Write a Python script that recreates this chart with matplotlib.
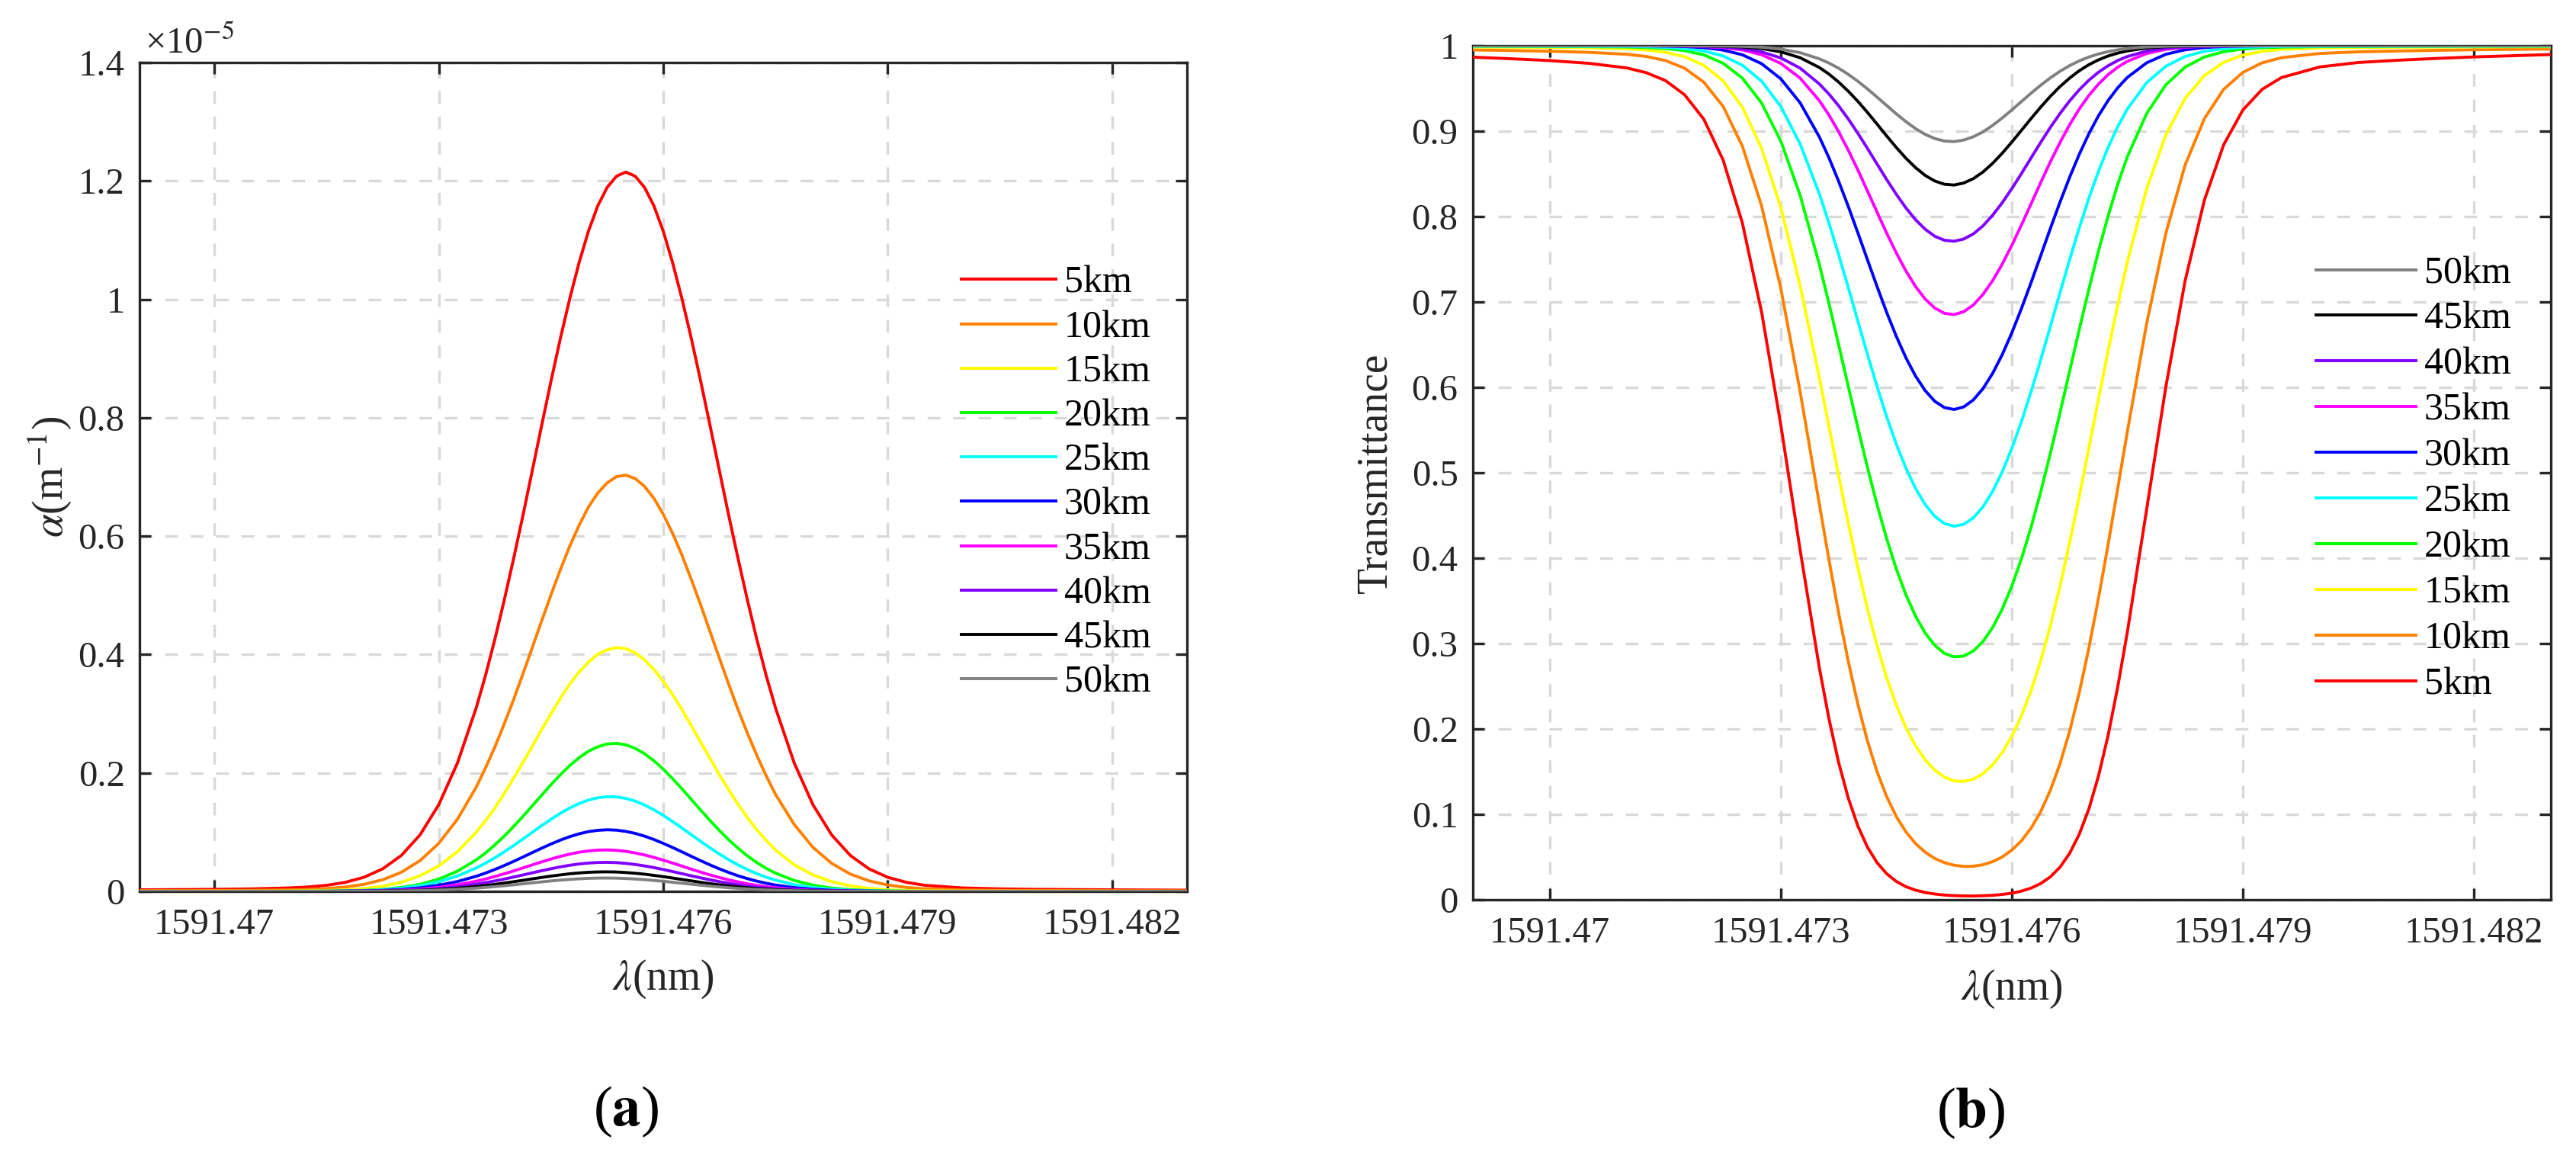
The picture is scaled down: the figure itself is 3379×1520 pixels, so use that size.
import matplotlib
matplotlib.use("Agg")
import matplotlib.pyplot as plt

plt.rcParams["font.family"] = ["Liberation Serif", "DejaVu Serif"]
plt.rcParams["mathtext.fontset"] = "stix"

# wavelength samples (nm), shared by both panels
wavelength = [
    1591.4690, 1591.4695, 1591.4700, 1591.4705,
    1591.4710, 1591.47125, 1591.4715, 1591.47175, 1591.4720, 1591.47225, 1591.4725, 1591.47275,
    1591.4730, 1591.47325, 1591.4735, 1591.473625, 1591.47375, 1591.473875, 1591.4740,
    1591.474125, 1591.47425, 1591.474375, 1591.4745, 1591.474625, 1591.47475, 1591.474875,
    1591.4750, 1591.475125, 1591.47525, 1591.475375, 1591.4755, 1591.475625, 1591.47575,
    1591.475875, 1591.4760, 1591.476125, 1591.47625, 1591.476375, 1591.4765, 1591.476625,
    1591.47675, 1591.476875, 1591.4770, 1591.477125, 1591.47725, 1591.477375,
    1591.4775, 1591.47775, 1591.4780, 1591.47825, 1591.4785, 1591.47875, 1591.4790, 1591.47925, 1591.4795,
    1591.4800, 1591.4805, 1591.4810, 1591.4815, 1591.4820, 1591.4830,
]

altitude_labels = ["5km", "10km", "15km", "20km", "25km", "30km", "35km", "40km", "45km", "50km"]
line_colors = ["#ff0000", "#ff8000", "#ffff00", "#00ff00", "#00ffff",
               "#0000ff", "#ff00ff", "#8000ff", "#000000", "#808080"]

# absorption coefficient, units of 1e-5 m^-1
alpha_5km = [
    0.0026, 0.0030, 0.0034, 0.0042,
    0.0058, 0.0074, 0.0102, 0.0152, 0.0238, 0.0380, 0.0607, 0.0955,
    0.1465, 0.217, 0.310, 0.365, 0.426, 0.492, 0.562, 0.635, 0.711, 0.787, 0.862, 0.934, 1.001, 1.062,
    1.115, 1.158, 1.189, 1.208, 1.215, 1.208, 1.189, 1.158, 1.115, 1.062,
    1.001, 0.934, 0.862, 0.787, 0.711, 0.635, 0.562, 0.492, 0.426, 0.365,
    0.310, 0.217, 0.1465, 0.0955, 0.0607, 0.0380, 0.0238, 0.0152, 0.0102,
    0.0058, 0.0042, 0.0034, 0.0030, 0.0026, 0.0020,
]
alpha_10km = [
    0.0010, 0.0012, 0.0014, 0.0017,
    0.0024, 0.0032, 0.0047, 0.0073, 0.0118, 0.0196, 0.0323, 0.052,
    0.0811, 0.122, 0.176, 0.2086, 0.244, 0.2829, 0.324, 0.3675, 0.412, 0.4568, 0.501, 0.5434, 0.583, 0.6183,
    0.649, 0.6729, 0.690, 0.7005, 0.703, 0.6973, 0.684, 0.6639, 0.637, 0.6046,
    0.568, 0.5267, 0.484, 0.4388, 0.394, 0.3499, 0.307, 0.2671, 0.230, 0.1953,
    0.164, 0.113, 0.0744, 0.0474, 0.0292, 0.0177, 0.0107, 0.0066, 0.0043,
    0.0023, 0.0016, 0.0014, 0.0012, 0.0010, 0.0008,
]
alpha_15km = [
    0.0002, 0.0002, 0.0003, 0.0003,
    0.0005, 0.0008, 0.0014, 0.0025, 0.0047, 0.0086, 0.0153, 0.0263,
    0.043, 0.067, 0.100, 0.1195, 0.141, 0.1654, 0.191, 0.218, 0.245, 0.2734, 0.300, 0.3263, 0.350, 0.3706,
    0.387, 0.4005, 0.408, 0.4118, 0.410, 0.4028, 0.391, 0.375, 0.355, 0.3322,
    0.307, 0.280, 0.252, 0.2246, 0.197, 0.1715, 0.147, 0.1246, 0.104, 0.0863,
    0.070, 0.045, 0.0278, 0.0164, 0.0093, 0.0050, 0.0028, 0.0014, 0.0009,
    0.0005, 0.0004, 0.0003, 0.0003, 0.0002, 0.0002,
]
alpha_20km = [
    0.0001, 0.0001, 0.0001, 0.0002,
    0.0002, 0.0002, 0.0004, 0.0008, 0.0017, 0.0033, 0.0066, 0.0118,
    0.0207, 0.0341, 0.0532, 0.0649, 0.0785, 0.0932, 0.1096, 0.1266, 0.1446, 0.1625, 0.1802, 0.197, 0.2125, 0.2257,
    0.2367, 0.2443, 0.2489, 0.2500, 0.2475, 0.2416, 0.2325, 0.2206, 0.2064, 0.1904,
    0.1732, 0.1553, 0.1373, 0.1196, 0.1028, 0.0871, 0.0728, 0.0599, 0.0487, 0.0389,
    0.0308, 0.0185, 0.0105, 0.0056, 0.0029, 0.0014, 0.0007, 0.0003, 0.0002,
    0.0001, 0.0001, 0.0001, 0.0001, 0.0001, 0.0001,
]
alpha_25km = [
    0.0001, 0.0001, 0.0001, 0.0001,
    0.0001, 0.0002, 0.0003, 0.0007, 0.0014, 0.0028, 0.0053, 0.0096,
    0.0162, 0.0260, 0.0395, 0.0477, 0.0568, 0.0667, 0.0774, 0.0884, 0.0998, 0.1110, 0.1218, 0.1319, 0.1409, 0.1484,
    0.1542, 0.1581, 0.1599, 0.1595, 0.1570, 0.1524, 0.1459, 0.1378, 0.1284, 0.1180,
    0.1070, 0.0957, 0.0844, 0.0735, 0.0631, 0.0534, 0.0446, 0.0368, 0.0299, 0.0240,
    0.0190, 0.0114, 0.0065, 0.0035, 0.0018, 0.0009, 0.0004, 0.0002, 0.0001,
    0.0001, 0.0001, 0.0001, 0.0001, 0.0001, 0.0001,
]
alpha_30km = [
    0.0, 0.0, 0.0, 0.0,
    0.0, 0.0001, 0.0002, 0.0004, 0.0008, 0.0017, 0.0033, 0.0060,
    0.0103, 0.0166, 0.0255, 0.0309, 0.0370, 0.0436, 0.0506, 0.0580, 0.0655, 0.0729, 0.0800, 0.0866, 0.0924, 0.0972,
    0.1009, 0.1031, 0.1040, 0.1034, 0.1013, 0.0979, 0.0933, 0.0876, 0.0811, 0.0741,
    0.0667, 0.0592, 0.0518, 0.0447, 0.0380, 0.0319, 0.0263, 0.0215, 0.0173, 0.0137,
    0.0107, 0.0063, 0.0035, 0.0018, 0.0009, 0.0004, 0.0002, 0.0001, 0.0,
    0.0, 0.0, 0.0, 0.0, 0.0, 0.0,
]
alpha_35km = [
    0.0, 0.0, 0.0, 0.0,
    0.0, 0.0, 0.0001, 0.0002, 0.0005, 0.0011, 0.0021, 0.0039,
    0.0068, 0.0111, 0.0172, 0.0209, 0.0251, 0.0297, 0.0345, 0.0396, 0.0447, 0.0498, 0.0546, 0.0591, 0.0629, 0.0661,
    0.0683, 0.0697, 0.0700, 0.0693, 0.0676, 0.0649, 0.0615, 0.0574, 0.0527, 0.0478,
    0.0427, 0.0375, 0.0325, 0.0278, 0.0234, 0.0194, 0.0159, 0.0128, 0.0101, 0.0079,
    0.0061, 0.0035, 0.0019, 0.0009, 0.0004, 0.0002, 0.0001, 0.0, 0.0,
    0.0, 0.0, 0.0, 0.0, 0.0, 0.0,
]
alpha_40km = [
    0.0, 0.0, 0.0, 0.0,
    0.0, 0.0, 0.0001, 0.0002, 0.0004, 0.0008, 0.0015, 0.0027,
    0.0048, 0.0078, 0.0121, 0.0147, 0.0176, 0.0208, 0.0242, 0.0277, 0.0313, 0.0349, 0.0382, 0.0414, 0.0441, 0.0463,
    0.0478, 0.0488, 0.0490, 0.0485, 0.0473, 0.0454, 0.0430, 0.0402, 0.0369, 0.0335,
    0.0299, 0.0263, 0.0228, 0.0195, 0.0164, 0.0136, 0.0111, 0.0089, 0.0071, 0.0055,
    0.0043, 0.0024, 0.0013, 0.0007, 0.0003, 0.0001, 0.0001, 0.0, 0.0,
    0.0, 0.0, 0.0, 0.0, 0.0, 0.0,
]
alpha_45km = [
    0.0, 0.0, 0.0, 0.0,
    0.0, 0.0, 0.0, 0.0001, 0.0002, 0.0005, 0.0010, 0.0018,
    0.0032, 0.0053, 0.0081, 0.0099, 0.0118, 0.0140, 0.0163, 0.0187, 0.0211, 0.0235, 0.0258, 0.0278, 0.0297, 0.0311,
    0.0322, 0.0328, 0.0330, 0.0327, 0.0318, 0.0306, 0.0290, 0.0270, 0.0249, 0.0225,
    0.0201, 0.0177, 0.0153, 0.0131, 0.0110, 0.0091, 0.0075, 0.0060, 0.0048, 0.0037,
    0.0029, 0.0016, 0.0009, 0.0004, 0.0002, 0.0001, 0.0, 0.0, 0.0,
    0.0, 0.0, 0.0, 0.0, 0.0, 0.0,
]
alpha_50km = [
    0.0, 0.0, 0.0, 0.0,
    0.0, 0.0, 0.0, 0.0, 0.0002, 0.0003, 0.0007, 0.0013,
    0.0022, 0.0036, 0.0055, 0.0067, 0.0081, 0.0095, 0.0111, 0.0127, 0.0144, 0.0160, 0.0176, 0.0190, 0.0202, 0.0212,
    0.0220, 0.0224, 0.0225, 0.0223, 0.0217, 0.0209, 0.0198, 0.0184, 0.0170, 0.0154,
    0.0137, 0.0121, 0.0105, 0.0089, 0.0075, 0.0062, 0.0051, 0.0041, 0.0033, 0.0025,
    0.0020, 0.0011, 0.0006, 0.0003, 0.0001, 0.0, 0.0, 0.0, 0.0,
    0.0, 0.0, 0.0, 0.0, 0.0, 0.0,
]

# transmittance
trans_5km = [
    0.9866, 0.9848, 0.9826, 0.9795,
    0.9740, 0.9685, 0.9593, 0.9426, 0.9139, 0.8662, 0.7925, 0.6880,
    0.5557, 0.4097, 0.2715, 0.2118, 0.1608, 0.1192, 0.0863, 0.0615, 0.0433, 0.0304, 0.0214, 0.0153, 0.0112, 0.0085,
    0.0067, 0.0055, 0.0048, 0.0045, 0.0044, 0.0047, 0.0052, 0.0062, 0.0077, 0.0101,
    0.0137, 0.0190, 0.0268, 0.0381, 0.0543, 0.0766, 0.1063, 0.1448, 0.1924, 0.2492,
    0.3135, 0.4567, 0.6006, 0.7247, 0.8191, 0.8839, 0.9247, 0.9489, 0.9627,
    0.9752, 0.9804, 0.9830, 0.9851, 0.9869, 0.9897,
]
trans_10km = [
    0.9951, 0.9944, 0.9936, 0.9923,
    0.9900, 0.9875, 0.9827, 0.9737, 0.9573, 0.9290, 0.8824, 0.8124,
    0.7155, 0.5953, 0.4632, 0.3979, 0.3360, 0.2793, 0.2290, 0.1858, 0.1498, 0.1206, 0.0973, 0.0794, 0.0657, 0.0556,
    0.0483, 0.0434, 0.0404, 0.0390, 0.0392, 0.0410, 0.0446, 0.0501, 0.0581, 0.0691,
    0.0839, 0.1033, 0.1281, 0.1592, 0.1972, 0.2425, 0.2946, 0.3530, 0.4159, 0.4818,
    0.5482, 0.6744, 0.7805, 0.8603, 0.9146, 0.9489, 0.9688, 0.9800, 0.9860,
    0.9910, 0.9929, 0.9938, 0.9946, 0.9953, 0.9962,
]
trans_15km = [
    0.9985, 0.9983, 0.9980, 0.9976,
    0.9965, 0.9951, 0.9924, 0.9871, 0.9771, 0.9589, 0.9281, 0.8799,
    0.8105, 0.7192, 0.6113, 0.5541, 0.4969, 0.4413, 0.3888, 0.3405, 0.2974, 0.2597, 0.2278, 0.2015, 0.1802, 0.1638,
    0.1517, 0.1436, 0.1392, 0.1385, 0.1412, 0.1477, 0.1579, 0.1724, 0.1914, 0.2155,
    0.2450, 0.2801, 0.3208, 0.3670, 0.4177, 0.4721, 0.5289, 0.5861, 0.6426, 0.6967,
    0.7469, 0.8323, 0.8956, 0.9383, 0.9650, 0.9806, 0.9890, 0.9934, 0.9957,
    0.9974, 0.9979, 0.9982, 0.9984, 0.9986, 0.9989,
]
trans_20km = [
    0.9994, 0.9993, 0.9992, 0.9990,
    0.9986, 0.9980, 0.9968, 0.9943, 0.9893, 0.9795, 0.9621, 0.9330,
    0.8883, 0.8250, 0.7439, 0.6981, 0.6501, 0.6013, 0.5528, 0.5061, 0.4624, 0.4226, 0.3872, 0.3569, 0.3320, 0.3122,
    0.2978, 0.2885, 0.2844, 0.2853, 0.2913, 0.3024, 0.3187, 0.3404, 0.3673, 0.3994,
    0.4363, 0.4777, 0.5226, 0.5701, 0.6188, 0.6675, 0.7148, 0.7596, 0.8007, 0.8378,
    0.8701, 0.9205, 0.9543, 0.9750, 0.9868, 0.9930, 0.9962, 0.9977, 0.9984,
    0.9990, 0.9991, 0.9993, 0.9993, 0.9994, 0.9995,
]
trans_25km = [
    0.9996, 0.9996, 0.9995, 0.9994,
    0.9992, 0.9989, 0.9982, 0.9968, 0.9939, 0.9880, 0.9772, 0.9585,
    0.9288, 0.8851, 0.8266, 0.7924, 0.7555, 0.7170, 0.6776, 0.6385, 0.6008, 0.5654, 0.5333, 0.5052, 0.4815, 0.4627,
    0.4489, 0.4405, 0.4374, 0.4396, 0.4472, 0.4601, 0.4781, 0.5011, 0.5286, 0.5601,
    0.5950, 0.6323, 0.6713, 0.7107, 0.7495, 0.7867, 0.8214, 0.8530, 0.8810, 0.9053,
    0.9259, 0.9567, 0.9760, 0.9874, 0.9935, 0.9966, 0.9981, 0.9989, 0.9992,
    0.9994, 0.9995, 0.9995, 0.9996, 0.9996, 0.9997,
]
trans_30km = [
    1.0, 1.0, 1.0, 1.0,
    0.9999, 0.9999, 0.9996, 0.9991, 0.9978, 0.9950, 0.9894, 0.9790,
    0.9612, 0.9332, 0.8932, 0.8687, 0.8414, 0.8120, 0.7810, 0.7493, 0.7179, 0.6876, 0.6596, 0.6345, 0.6131, 0.5961,
    0.5836, 0.5763, 0.5741, 0.5771, 0.5853, 0.5985, 0.6163, 0.6383, 0.6639, 0.6924,
    0.7228, 0.7543, 0.7860, 0.8168, 0.8459, 0.8728, 0.8969, 0.9180, 0.9359, 0.9508,
    0.9629, 0.9800, 0.9900, 0.9953, 0.9979, 0.9992, 0.9997, 0.9999, 1.0,
    1.0, 1.0, 1.0, 1.0, 1.0, 1.0,
]
trans_35km = [
    1.0, 1.0, 1.0, 1.0,
    1.0, 0.9999, 0.9999, 0.9997, 0.9991, 0.9979, 0.9951, 0.9895,
    0.9793, 0.9621, 0.9357, 0.9188, 0.8994, 0.8778, 0.8545, 0.8299, 0.8050, 0.7804, 0.7573, 0.7362, 0.7180, 0.7033,
    0.6928, 0.6867, 0.6852, 0.6886, 0.6965, 0.7088, 0.7249, 0.7443, 0.7664, 0.7902,
    0.8150, 0.8399, 0.8640, 0.8867, 0.9075, 0.9259, 0.9418, 0.9551, 0.9662, 0.9749,
    0.9818, 0.9909, 0.9958, 0.9982, 0.9993, 0.9997, 0.9999, 1.0, 1.0,
    1.0, 1.0, 1.0, 1.0, 1.0, 1.0,
]
trans_40km = [
    1.0, 1.0, 1.0, 1.0,
    1.0, 1.0, 0.9999, 0.9998, 0.9994, 0.9985, 0.9966, 0.9928,
    0.9857, 0.9738, 0.9553, 0.9434, 0.9297, 0.9143, 0.8975, 0.8797, 0.8614, 0.8432, 0.8260, 0.8100, 0.7962, 0.7851,
    0.7769, 0.7722, 0.7711, 0.7737, 0.7797, 0.7891, 0.8015, 0.8162, 0.8327, 0.8504,
    0.8687, 0.8869, 0.9044, 0.9206, 0.9354, 0.9484, 0.9596, 0.9690, 0.9766, 0.9827,
    0.9874, 0.9937, 0.9971, 0.9988, 0.9995, 0.9998, 0.9999, 1.0, 1.0,
    1.0, 1.0, 1.0, 1.0, 1.0, 1.0,
]
trans_45km = [
    1.0, 1.0, 1.0, 1.0,
    1.0, 1.0, 1.0, 0.9999, 0.9998, 0.9994, 0.9986, 0.9967,
    0.9929, 0.9860, 0.9745, 0.9668, 0.9575, 0.9468, 0.9349, 0.9219, 0.9082, 0.8943, 0.8808, 0.8682, 0.8572, 0.8481,
    0.8416, 0.8378, 0.8369, 0.8393, 0.8444, 0.8522, 0.8623, 0.8741, 0.8873, 0.9010,
    0.9148, 0.9282, 0.9408, 0.9522, 0.9621, 0.9707, 0.9778, 0.9835, 0.9880, 0.9914,
    0.9940, 0.9973, 0.9989, 0.9996, 0.9998, 1.0, 1.0, 1.0, 1.0,
    1.0, 1.0, 1.0, 1.0, 1.0, 1.0,
]
trans_50km = [
    1.0, 1.0, 1.0, 1.0,
    1.0, 1.0, 1.0, 1.0, 0.9999, 0.9997, 0.9993, 0.9983,
    0.9961, 0.9919, 0.9847, 0.9797, 0.9737, 0.9665, 0.9584, 0.9494, 0.9398, 0.9300, 0.9202, 0.9111, 0.9029, 0.8962,
    0.8913, 0.8884, 0.8878, 0.8896, 0.8934, 0.8992, 0.9067, 0.9154, 0.9249, 0.9347,
    0.9445, 0.9538, 0.9624, 0.9701, 0.9767, 0.9823, 0.9868, 0.9904, 0.9931, 0.9952,
    0.9967, 0.9986, 0.9994, 0.9998, 1.0, 1.0, 1.0, 1.0, 1.0,
    1.0, 1.0, 1.0, 1.0, 1.0, 1.0,
]

alpha_series = [alpha_5km, alpha_10km, alpha_15km, alpha_20km, alpha_25km,
                alpha_30km, alpha_35km, alpha_40km, alpha_45km, alpha_50km]
trans_series = [trans_5km, trans_10km, trans_15km, trans_20km, trans_25km,
                trans_30km, trans_35km, trans_40km, trans_45km, trans_50km]

x_ticks = [1591.470, 1591.473, 1591.476, 1591.479, 1591.482]
x_tick_labels = ["1591.47", "1591.473", "1591.476", "1591.479", "1591.482"]
alpha_ticks = [0, 0.2, 0.4, 0.6, 0.8, 1.0, 1.2, 1.4]
alpha_tick_labels = ["0", "0.2", "0.4", "0.6", "0.8", "1", "1.2", "1.4"]
trans_ticks = [0, 0.1, 0.2, 0.3, 0.4, 0.5, 0.6, 0.7, 0.8, 0.9, 1.0]
trans_tick_labels = ["0", "0.1", "0.2", "0.3", "0.4", "0.5", "0.6", "0.7", "0.8", "0.9", "1"]

W, H = 3379, 1520
INK = "#262626"
fig = plt.figure(figsize=(W / 100, H / 100), dpi=100)


def axes_from_pixels(left, top, right, bottom):
    return fig.add_axes([left / W, 1 - bottom / H, (right - left) / W, (bottom - top) / H])


def style_axes(ax):
    ax.set_xlim(1591.469, 1591.483)
    ax.set_xticks(x_ticks)
    ax.set_xticklabels(x_tick_labels)
    ax.tick_params(direction="in", top=True, right=True, length=11, width=2.4,
                   labelsize=35, color=INK, labelcolor=INK)
    ax.tick_params(axis="x", pad=16)
    ax.tick_params(axis="y", pad=14)
    ax.grid(True, color="#d9d9d9", linestyle=(0, (5, 5)), linewidth=2.4)
    ax.set_axisbelow(True)
    for spine in ax.spines.values():
        spine.set_linewidth(2.4)
        spine.set_color(INK)


ax_a = axes_from_pixels(183, 82, 1557, 1169)
ax_t = axes_from_pixels(1932, 60, 3346, 1180)

# (a) absorption coefficient
for values, color, label in zip(alpha_series, line_colors, altitude_labels):
    ax_a.plot(wavelength, values, color=color, lw=2.8, label=label, zorder=3)
style_axes(ax_a)
ax_a.set_ylim(0, 1.4)
ax_a.set_yticks(alpha_ticks)
ax_a.set_yticklabels(alpha_tick_labels)
ax_a.set_xlabel(r"$\lambda$(nm)", fontsize=40, color=INK, va="center")
ax_a.xaxis.set_label_coords(0.5, -0.1058)
ax_a.set_ylabel(r"$\alpha$(m$^{-1}$)", fontsize=40, color=INK, va="center")
ax_a.yaxis.set_label_coords(-0.0859, 0.5)
fig.text(190 / W, 1 - 70 / H, "×10$^{-5}$", fontsize=35, color=INK, ha="left", va="baseline")
ax_a.legend(loc="upper left", bbox_to_anchor=(1591.47998, 1.057), bbox_transform=ax_a.transData,
            frameon=False, fontsize=36, handlelength=2.48, handletextpad=0.22,
            labelspacing=0.234, borderpad=0, borderaxespad=0)

# (b) transmittance
lines_t = []
for values, color, label in zip(trans_series, line_colors, altitude_labels):
    line, = ax_t.plot(wavelength, values, color=color, lw=2.8, label=label, zorder=3)
    lines_t.append(line)
style_axes(ax_t)
ax_t.set_ylim(0, 1)
ax_t.set_yticks(trans_ticks)
ax_t.set_yticklabels(trans_tick_labels)
ax_t.set_xlabel(r"$\lambda$(nm)", fontsize=40, color=INK, va="center")
ax_t.xaxis.set_label_coords(0.5, -0.105)
ax_t.set_ylabel("Transmittance", fontsize=40, color=INK, va="center")
ax_t.yaxis.set_label_coords(-0.0905, 0.5)
ax_t.legend(lines_t[::-1], altitude_labels[::-1], loc="upper left",
            bbox_to_anchor=(1591.47995, 0.754), bbox_transform=ax_t.transData,
            frameon=False, fontsize=36, handlelength=2.62, handletextpad=0.22,
            labelspacing=0.268, borderpad=0, borderaxespad=0)

fig.text(821 / W, 1 - 1458 / H, r"($\mathbf{a}$)", fontsize=54, ha="center", va="center")
fig.text(2585 / W, 1 - 1460 / H, r"($\mathbf{b}$)", fontsize=54, ha="center", va="center")

fig.savefig("out.png", dpi=100)
